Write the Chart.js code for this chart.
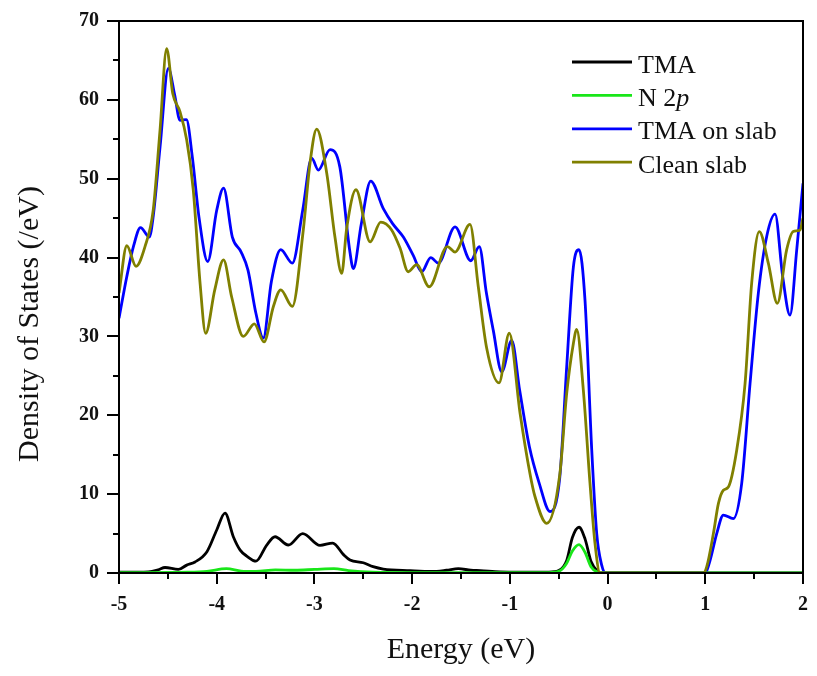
<!DOCTYPE html>
<html>
<head>
<meta charset="utf-8">
<script src="https://cdn.jsdelivr.net/npm/chart.js@4.4.0/dist/chart.umd.min.js"></script>
<style>
  body { margin: 0; background: #fff; }
  #wrap { width: 817px; height: 676px; }
</style>
</head>
<body>
<div id="wrap"><canvas id="dos"></canvas></div>
<script>
// TMA projected DOS
const tmaE = [-5.0, -4.7, -4.6, -4.529, -4.393, -4.307, -4.222, -4.10, -4.0, -3.915, -3.83, -3.76, -3.693, -3.598, -3.488, -3.403, -3.267, -3.12, -2.943, -2.813, -2.70, -2.636, -2.50, -2.4, -2.295, -2.02, -1.8, -1.65, -1.527, -1.4, -1.3, -1.1, -0.6, -0.5, -0.418, -0.36, -0.292, -0.23, -0.17, -0.1, -0.05, 2.0]
const tmaDos = [0.1, 0.15, 0.4, 0.7, 0.45, 1.0, 1.4, 2.7, 5.45, 7.6, 4.6, 2.9, 2.15, 1.5, 3.55, 4.6, 3.55, 5.0, 3.5, 3.8, 2.3, 1.65, 1.3, 0.8, 0.5, 0.3, 0.2, 0.35, 0.55, 0.35, 0.3, 0.15, 0.1, 0.3, 1.6, 4.5, 5.8, 4.3, 1.5, 0.2, 0, 0]

// N 2p
const n2pE = [-5.0, -4.3, -4.1, -3.9, -3.75, -3.6, -3.4, -3.2, -3.0, -2.8, -2.65, -2.4, -2.0, -0.6, -0.5, -0.42, -0.36, -0.292, -0.23, -0.17, -0.1, -0.05, 2.0]
const n2pDos = [0.05, 0.1, 0.2, 0.55, 0.25, 0.2, 0.4, 0.35, 0.45, 0.55, 0.3, 0.1, 0.05, 0.05, 0.2, 1.2, 2.8, 3.6, 2.6, 0.8, 0.1, 0, 0]

// TMA adsorbed on the slab
const slabE = [-5.0, -4.92, -4.85, -4.78, -4.69, -4.65, -4.58, -4.495, -4.43, -4.376, -4.31, -4.25, -4.18, -4.092, -4.0, -3.93, -3.84, -3.75, -3.68, -3.6, -3.523, -3.44, -3.345, -3.226, -3.12, -3.028, -2.96, -2.84, -2.74, -2.64, -2.602, -2.52, -2.424, -2.295, -2.2, -2.09, -1.99, -1.902, -1.81, -1.732, -1.561, -1.40, -1.313, -1.24, -1.17, -1.083, -0.981, -0.9, -0.8, -0.7, -0.589, -0.49, -0.418, -0.35, -0.292, -0.231, -0.162, -0.111, -0.06, -0.02, 1.0, 1.049, 1.117, 1.185, 1.287, 1.373, 1.458, 1.543, 1.629, 1.714, 1.792, 1.867, 1.936, 2.0]
const slabDos = [32.3, 37.6, 41.5, 43.8, 42.6, 45.2, 54, 64.0, 60.6, 57.4, 57.5, 52.8, 45, 39.5, 46, 48.8, 42.6, 40.7, 38.4, 33, 29.8, 37, 41.0, 39.3, 46, 52.6, 51.1, 53.7, 51.5, 41, 38.6, 44.3, 49.7, 46.2, 44.3, 42.6, 40.3, 38.2, 40.0, 39.3, 43.9, 39.6, 41.4, 35.5, 30.8, 25.5, 29.5, 23.2, 16, 11.4, 7.8, 12, 26.2, 38.8, 41.0, 34.6, 15.6, 5, 1, 0, 0, 1.6, 5, 7.35, 6.9, 11.4, 24, 35.5, 42.7, 45.5, 37.6, 32.7, 41, 49.4]

// bare slab
const cleanE = [-5.0, -4.92, -4.826, -4.734, -4.65, -4.58, -4.512, -4.45, -4.376, -4.307, -4.24, -4.17, -4.113, -4.02, -3.93, -3.847, -3.728, -3.615, -3.516, -3.42, -3.345, -3.226, -3.114, -3.045, -2.977, -2.874, -2.79, -2.721, -2.67, -2.575, -2.43, -2.322, -2.21, -2.124, -2.04, -1.954, -1.825, -1.64, -1.561, -1.408, -1.323, -1.237, -1.111, -1.006, -0.896, -0.794, -0.743, -0.623, -0.49, -0.418, -0.35, -0.316, -0.248, -0.18, -0.129, -0.077, 0.98, 1.015, 1.083, 1.134, 1.185, 1.236, 1.322, 1.407, 1.475, 1.553, 1.645, 1.737, 1.833, 1.90, 1.97, 2.0]
const cleanDos = [35.5, 41.5, 38.9, 41.4, 46, 56.2, 66.5, 60.8, 58.5, 54.9, 48.6, 36.7, 30.4, 35.9, 39.7, 35, 30.0, 31.6, 29.3, 33.8, 35.9, 33.8, 43.5, 52, 56.3, 50.7, 42.6, 38.0, 43.7, 48.6, 42.0, 44.5, 43.5, 41.2, 38.2, 39.1, 36.3, 41.4, 40.7, 44.2, 36.3, 28.5, 24.1, 30.4, 20.3, 12.6, 9.7, 6.3, 12.4, 22.8, 29.1, 30.9, 23.2, 11.4, 3.8, 0, 0, 0.8, 5, 8.8, 10.5, 10.9, 15.6, 24, 36.8, 43.3, 39.3, 34.2, 41, 43.3, 43.5, 45]

const serif = '"Liberation Serif", "Times New Roman", serif'

const toPoints = (xs, ys) => xs.map((x, i) => ({x: x, y: ys[i]}))

// order: lower number is painted later (on top)
const series = [
  {label: 'TMA', color: '#000000', pts: toPoints(tmaE, tmaDos), order: 3},
  {label: 'N 2p', color: '#19e619', pts: toPoints(n2pE, n2pDos), order: 1},
  {label: 'TMA on slab', color: '#0000ff', pts: toPoints(slabE, slabDos), order: 2},
  {label: 'Clean slab', color: '#808000', pts: toPoints(cleanE, cleanDos), order: 0}
]

// box frame, major/minor ticks, rotated y title and the legend
const decor = {
  id: 'decor',
  afterDatasetsDraw(chart) {
    const {ctx, chartArea: a, scales: {x, y}} = chart
    ctx.save()
    ctx.strokeStyle = '#000'
    ctx.lineWidth = 2
    ctx.strokeRect(a.left, a.top, a.right - a.left, a.bottom - a.top)

    ctx.beginPath()
    for (let v = -5; v <= 2.001; v += 0.5) {
      const px = Math.round(x.getPixelForValue(v))
      const len = Math.abs(v - Math.round(v)) < 0.01 ? 11 : 6
      ctx.moveTo(px, a.bottom)
      ctx.lineTo(px, a.bottom + len)
    }
    for (let v = 0; v <= 70; v += 5) {
      const py = Math.round(y.getPixelForValue(v))
      const len = v % 10 === 0 ? 12 : 6
      ctx.moveTo(a.left, py)
      ctx.lineTo(a.left - len, py)
    }
    ctx.stroke()

    // y axis title
    ctx.fillStyle = '#111'
    ctx.font = '30px ' + serif
    ctx.textAlign = 'center'
    ctx.textBaseline = 'middle'
    ctx.save()
    ctx.translate(30, 324)
    ctx.rotate(-Math.PI / 2)
    ctx.fillText('Density of States (/eV)', 0, 0)
    ctx.restore()

    // legend
    ctx.textAlign = 'left'
    ctx.textBaseline = 'alphabetic'
    ctx.lineWidth = 2.8
    series.forEach((s, i) => {
      const ly = 62 + i * 33.4
      ctx.strokeStyle = s.color
      ctx.beginPath()
      ctx.moveTo(572, ly)
      ctx.lineTo(632, ly)
      ctx.stroke()
      ctx.fillStyle = '#111'
      ctx.font = '26px ' + serif
      if (s.label === 'N 2p') {
        ctx.fillText('N 2', 638, ly + 10.5)
        const w = ctx.measureText('N 2').width
        ctx.font = 'italic 26px ' + serif
        ctx.fillText('p', 638 + w, ly + 10.5)
      } else {
        ctx.fillText(s.label, 638, ly + 10.5)
      }
    })
    ctx.restore()
  }
}

const ctx = document.getElementById('dos').getContext('2d')
new Chart(ctx, {
  type: 'line',
  data: {
    datasets: series.map(s => ({
      label: s.label,
      data: s.pts,
      borderColor: s.color,
      backgroundColor: s.color,
      borderWidth: 2.8,
      pointRadius: 0,
      fill: false,
      cubicInterpolationMode: 'monotone',
      order: s.order
    }))
  },
  options: {
    responsive: true,
    maintainAspectRatio: false,
    animation: false,
    layout: {padding: {top: 21, right: 14, left: 0, bottom: 0}},
    plugins: {legend: {display: false}, tooltip: {enabled: false}},
    scales: {
      x: {
        type: 'linear',
        min: -5,
        max: 2,
        afterFit: scale => {
          scale.height = 103
          scale.paddingLeft = 0
          scale.paddingRight = 0
        },
        grid: {display: false, drawTicks: false},
        border: {display: false},
        ticks: {
          stepSize: 1,
          padding: 20,
          color: '#111',
          font: {family: serif, size: 20, weight: 'bold'}
        },
        title: {
          display: true,
          text: 'Energy (eV)',
          color: '#111',
          font: {family: serif, size: 30},
          padding: {top: 0, bottom: 8}
        }
      },
      y: {
        min: 0,
        max: 70,
        afterFit: scale => {
          scale.width = 119
          scale.paddingTop = 0
          scale.paddingBottom = 0
        },
        grid: {display: false, drawTicks: false},
        border: {display: false},
        ticks: {
          stepSize: 10,
          padding: 20,
          color: '#111',
          font: {family: serif, size: 20, weight: 'bold'}
        }
      }
    }
  },
  plugins: [decor]
})
</script>
</body>
</html>
